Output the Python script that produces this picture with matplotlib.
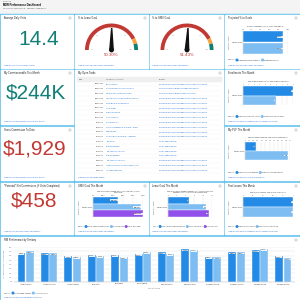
import matplotlib
matplotlib.use('Agg')
import matplotlib.pyplot as plt
from matplotlib.patches import Rectangle, Wedge, Polygon, Circle
import numpy as np

plt.rcParams['font.family'] = ['Liberation Sans', 'DejaVu Sans']

# ---------------- data ----------------
avg_daily_visits = "14.4"
commissionable_month = "$244K"
gross_commission = "$1,929"
potential_net = "$458"

lease_goal_pct = 50.30
gmv_goal_pct = 51.43
gauge_band_edges = [0, 85, 92, 100]
gauge_tick_values = [0, 25, 50, 75, 100]

proj_labels = ["Projected Funded Lease %", "Projected GMV %"]
proj_values = [89.2, 88.9]
proj_ticks = [0, 20, 40, 60, 80, 100]

enroll_labels = ["Sum of Enrollments Actual", "Sum of Enrollment Goal"]
enroll_values = [9, 6]
enroll_ticks = [0, 1, 2, 3, 4, 5, 6, 7, 8, 9]

plf_labels = ["Sum of Leads Produced", "Sum of PLF Requirement"]
plf_values = [26, 105]
plf_ticks = [0, 10, 20, 30, 40, 50, 60, 70, 80, 90, 100, 110]

gmv_goal_labels = ["Sum of Commissionable GMV", "Projected GMV", "Sum of GMV Goal"]
gmv_goal_values = [500000, 960000, 1000000]
gmv_goal_ticks = [0, 200000, 400000, 600000, 800000, 1000000]

lease_goal_labels = ["Sum of Commissionable Funded Count", "Sum of Projected Fun...", "Sum of Lease Goal"]
lease_goal_values = [7, 13, 14]
lease_goal_ticks = [0, 3, 6, 9, 12, 15]

first_lease_labels = ["Sum of First Leases", "Sum of First Lease Goal"]
first_lease_values = [1, 1]
first_lease_ticks = [0, 0.2, 0.4, 0.6, 0.8, 1.0]

owner_name = "Natalie Wise"

task_dates = ["8/30/2023", "8/30/2023", "8/30/2023", "8/30/2023", "8/30/2023", "8/31/2023",
              "8/31/2023", "8/31/2023", "9/1/2023", "9/1/2023", "9/1/2023", "9/5/2023",
              "9/5/2023", "9/5/2023", "9/5/2023", "9/5/2023", "9/6/2023", "9/6/2023", "9/6/2023"]
task_companies = ["Boost Mobile", "Good Works Fresh Tire Service", "Mobile Cell / Combination Bill",
                  "Levine Furniture and Mattress Depot", "Gear Back & Commission", "Auto Today",
                  "Cierra Furniture", "CJ's Jewelers", "Superior Tires",
                  "Sutton Hardwood & Mattress - Grant", "Mel Gaines",
                  "Unique Baits Furniture - Anaheim", "Tire Shop", "Racing Wheels",
                  "The Appliance Doctor", "Racing Wheels", "The Appliance Doctor",
                  "American Service Station Mattresses", "All About Mattress"]
task_subjects = ["Follow up with merchant about producing in first month",
                 "Check in & Break Bread: Funded This Month",
                 "Check in & Break Bread: Combination Bill",
                 "Follow up with merchant about producing in first month",
                 "Follow up with merchant about producing in first month",
                 "Follow up with merchant about producing in first month",
                 "Follow up with merchant about producing in first month",
                 "Follow up with merchant about producing in first month",
                 "Follow up with merchant about producing in first month",
                 "Follow up with merchant about producing in first month",
                 "Follow up with merchant about producing in first month",
                 "Follow up with merchant about producing in first month",
                 "New Lead follow up", "New Lead follow up", "New Lead follow up",
                 "New Lead follow up",
                 "Follow up with merchant about producing in first month",
                 "Follow up with merchant about producing in first month",
                 "Follow up with merchant about producing in first month"]

territories = ["Atlanta East", "Atlanta South", "Atlanta West", "Charlotte", "Columbia",
               "Greensboro", "Miami North", "Miami South", "Orlando North", "Orlando South",
               "Tampa North", "Tampa South"]
funded_pct = [67.2, 65.7, 59.6, 62.6, 62.6, 64.2, 67.9, 75.5, 58.1, 68.7, 72.5, 59.6]
gmv_pct = [71.0, 65.7, 58.1, 60.4, 57.4, 69.4, 65.0, 74.0, 56.6, 68.7, 76.2, 54.3]
rm_ticks = [0, 10, 20, 30, 40, 50, 60, 70, 80]

# ---------------- styles ----------------
DARK = '#238be6'
LIGHT = '#7dbdf2'
PURPLE = '#9050e9'
TEAL = '#127f78'
RED = '#c23934'
LINK = '#1565c8'
GAP = '#62c3ec'
TXT = '#222222'
GRAY = '#666666'
FS_TITLE = 1.8
FS_LINK = 1.45
FS_SMALL = 1.35

fig = plt.figure(figsize=(3, 3), dpi=100)
bg = fig.add_axes([0, 0, 1, 1])
bg.set_xlim(0, 300)
bg.set_ylim(300, 0)
bg.axis('off')
renderer = fig.canvas.get_renderer()


def twidth(t):
    return t.get_window_extent(renderer).width


def add_ax(x0, y0, x1, y1):
    return fig.add_axes([x0 / 300, 1 - y1 / 300, (x1 - x0) / 300, (y1 - y0) / 300])


# header + background
bg.add_patch(Rectangle((0, 0), 300, 14, color='#f4f4f4', zorder=0))
bg.add_patch(Rectangle((0, 14), 300, 286, color=GAP, zorder=0))
bg.text(3, 2.0, "Dashboard", fontsize=1.4, color=GRAY, va='center')
bg.text(3, 4.8, "MDR Performance Dashboard", fontsize=1.95, color='#080707', va='center', fontweight='bold')
bg.text(3, 8.0, "As of Feb 14, 2024 8:44 PM · Viewing as Annie Mercer", fontsize=1.3, color='#444', va='center')

panels = {
    'avg': (1, 15, 73, 67.5),
    'lease_g': (75, 15, 148, 67.5),
    'gmv_g': (150, 15, 223, 67.5),
    'proj': (225, 15, 299, 67.5),
    'comm': (1, 70, 73, 124),
    'tasks': (75, 70, 223, 180),
    'enroll': (225, 70, 299, 124),
    'gross': (1, 126.5, 73, 180),
    'plf': (225, 126.5, 299, 180),
    'pot': (1, 182.5, 73, 234),
    'gmvgoal': (75, 182.5, 148, 234),
    'leasegoal': (150, 182.5, 223, 234),
    'first': (225, 182.5, 299, 234),
    'rm': (1, 236.5, 299, 299.5),
}
titles = {
    'avg': "Average Daily Visits", 'lease_g': "% to Lease Goal", 'gmv_g': "% to GMV Goal",
    'proj': "Projected % to Goals", 'comm': "My Commissionable This Month",
    'tasks': "My Open Tasks", 'enroll': "Enrollments This Month",
    'gross': "Gross Commission To Date", 'plf': "My PLF This Month",
    'pot': "*Potential* Net Commissions (If Visits Completed)",
    'gmvgoal': "GMV Goal This Month", 'leasegoal': "Lease Goal This Month",
    'first': "First Leases This Month", 'rm': "RM Performance by Territory",
}
links = {
    'avg': "View Report (Average Daily Visits)", 'lease_g': "View Report (My GMV Goals This Month)",
    'gmv_g': "View Report (My GMV Goals This Month)", 'proj': "View Report (My GMV Goals This Month)",
    'comm': "View Report (My Commissionable This Month)", 'tasks': "View Report (My Open Tasks)",
    'enroll': "View Report (My Enrollments & First Leases This Month)",
    'gross': "View Report (My Commissionable This Month)", 'plf': "View Report (My PLF This Month Report)",
    'pot': "View Report (My GMV Goals This Month)", 'gmvgoal': "View Report (My GMV Goals This Month)",
    'leasegoal': "View Report (My GMV Goals This Month)",
    'first': "View Report (My Enrollments & First Leases This Month)",
    'rm': "View Report (RM Performance by Territory)",
}
for k, (x0, y0, x1, y1) in panels.items():
    bg.add_patch(Rectangle((x0, y0), x1 - x0, y1 - y0, color='white', zorder=1))
    bg.text(x0 + 2.5, y0 + 3.2, titles[k], fontsize=FS_TITLE, color=TXT, va='center', zorder=3)
    bg.add_patch(Rectangle((x1 - 4.2, y0 + 2.2), 1.8, 1.8, fill=False, ec='#a0a0a0', lw=0.3, zorder=3))
    bg.text(x0 + 2.5, y1 - 2.6, links[k], fontsize=FS_LINK, color=LINK, va='center', zorder=3)

# ---------------- big numbers ----------------
big = [('avg', avg_daily_visits, TEAL, 39.5, 39), ('comm', commissionable_month, TEAL, 93, 36),
       ('gross', gross_commission, RED, 149, 35), ('pot', potential_net, RED, 201, 34)]
for k, txt, col, yc, xc in big:
    bg.text(xc, yc, txt, fontsize=15, color=col, ha='center', va='center', zorder=3)


# ---------------- gauges ----------------
def gauge(cx, cy, value):
    ax = add_ax(cx - 30, cy - 30, cx + 30, cy + 8)
    ax.set_xlim(-30, 30)
    ax.set_ylim(-8, 30)
    ax.set_aspect('equal')
    ax.axis('off')
    r, w = 26.5, 3.8
    cols = [RED, '#f7a23e', '#0d7f74']
    for i in range(len(gauge_band_edges) - 1):
        a0 = 180 - gauge_band_edges[i + 1] * 1.8
        a1 = 180 - gauge_band_edges[i] * 1.8
        ax.add_patch(Wedge((0, 0), r, a0, a1, width=w, color=cols[i], lw=0))
    for t in gauge_tick_values:
        a = np.radians(180 - t * 1.8)
        ax.text(19.5 * np.cos(a), 19.5 * np.sin(a) + 1, f"{t}%", fontsize=1.2, color='#999',
                ha='center', va='center')
    a = np.radians(180 - value * 1.8)
    tip = (22 * np.cos(a), 22 * np.sin(a))
    perp = (np.cos(a + np.pi / 2) * 1.7, np.sin(a + np.pi / 2) * 1.7)
    ax.add_patch(Polygon([(perp[0], perp[1]), tip, (-perp[0], -perp[1])], color='#111'))
    ax.add_patch(Circle((0, 0), 1.7, color='#111'))
    ax.text(0, -4.6, f"{value:.2f}%", fontsize=3.2, color=RED, ha='center', va='center')


gauge(111.5, 50, lease_goal_pct)
gauge(187, 50, gmv_goal_pct)


# ---------------- legends ----------------
def legend(x, y, labels, colors, fs=FS_SMALL):
    t = bg.text(x, y, "Measure", fontsize=fs, color='#666', va='center', zorder=3)
    x += twidth(t) + 2.2
    for lab, c in zip(labels, colors):
        bg.add_patch(Circle((x, y), 0.8, color=c, zorder=3))
        t = bg.text(x + 1.3, y, lab, fontsize=fs, color='#333', va='center', zorder=3)
        x += 1.3 + twidth(t) + 2.2


# ---------------- horizontal bar panels ----------------
def fmt_val(v, money=False, pct=False):
    if money:
        return f"${v:,.0f}"
    if pct:
        return f"{v:.2f}%"
    return f"{v:g}"


def tick_fmt(t, money=False, pct=False):
    if money:
        return "$0" if t == 0 else f"${t / 1000:.0f}K" if t < 1e6 else f"${t / 1e6:.1f}M"
    if pct:
        return f"{t:.0f}%"
    return f"{t:g}"


def hbar(panel, rect, labels, values, colors, ticks, title, money=False, pct=False, leg_fs=FS_SMALL):
    x0, y0, x1, y1 = rect
    ax = add_ax(*rect)
    n = len(values)
    pos = np.arange(n)
    ax.barh(pos, values, height=1.0, color=colors, edgecolor='white', linewidth=0.3, zorder=2)
    ax.set_ylim(n - 0.5, -0.5)
    ax.set_xlim(ticks[0], ticks[-1])
    ax.set_xticks(ticks)
    ax.set_xticklabels([tick_fmt(t, money, pct) for t in ticks], fontsize=1.2, color='#666')
    ax.xaxis.tick_top()
    ax.tick_params(length=0, pad=0.8)
    ax.set_yticks([])
    ax.grid(axis='x', color='#e2e2e2', lw=0.3)
    ax.set_axisbelow(True)
    for s in ['top', 'right', 'bottom']:
        ax.spines[s].set_visible(False)
    ax.spines['left'].set_color('#bbb')
    ax.spines['left'].set_linewidth(0.3)
    for i, v in enumerate(values):
        ax.text(v - (ticks[-1] - ticks[0]) * 0.015, i, fmt_val(v, money, pct), fontsize=1.2,
                ha='right', va='center', color='#222',
                bbox=dict(boxstyle='square,pad=0.15', fc='white', ec='none', alpha=0.85))
    ax.set_facecolor('none')
    px0, py0, px1, py1 = panels[panel]
    bg.text((x0 + x1) / 2, y0 - 3.6, title, fontsize=1.3, color='#333', ha='center', va='bottom',
            linespacing=1.05, zorder=3)
    bg.text(x0 - 1.5, (y0 + y1) / 2, owner_name, fontsize=1.3, color='#333', ha='right', va='center', zorder=3)
    bg.text(px0 + 4, (y0 + y1) / 2, "Opportunity Owner", fontsize=1.2, color='#666', ha='center',
            va='center', rotation=90, zorder=3)
    legend(px0 + 2.5, py1 - 7.5, labels, colors, leg_fs)
    return ax


hbar('proj', (243, 31, 288, 54), proj_labels, proj_values, [DARK, LIGHT], proj_ticks,
     "Projected Funded Lease %, Projected GMV %", pct=True)
hbar('enroll', (243, 86, 293, 105), enroll_labels, enroll_values, [DARK, LIGHT], enroll_ticks,
     "Sum of Enrollments Actual, Sum of Enrollment Goal")
hbar('plf', (245, 142, 290, 160), plf_labels, plf_values, [DARK, LIGHT], plf_ticks,
     "Sum of Leads Produced, Sum of PLF Requirement")
hbar('gmvgoal', (93, 197, 143, 217), gmv_goal_labels, gmv_goal_values, [DARK, LIGHT, PURPLE],
     gmv_goal_ticks, "Sum of Commissionable GMV, Projected GMV, Sum of\nGMV Goal", money=True,
     leg_fs=1.15)
hbar('leasegoal', (168, 197, 212, 217), lease_goal_labels, lease_goal_values, [DARK, LIGHT, PURPLE],
     lease_goal_ticks, "Sum of Commissionable Funded Count, Sum of Projected\nFunded Lease, Sum of Funded Lease Goal",
     leg_fs=1.0)
hbar('first', (243, 197, 293, 217), first_lease_labels, first_lease_values, [DARK, LIGHT],
     first_lease_ticks, "Sum of First Leases, Sum of First Lease Goal")

# ---------------- tasks table ----------------
bg.add_patch(Rectangle((77, 76.8), 144, 4.6, color='#f0efef', zorder=2))
bg.text(78.5, 79, "Date", fontsize=1.45, color='#444', va='center', zorder=3)
bg.text(106, 79, "Company / Account", fontsize=1.45, color='#444', va='center', zorder=3)
bg.text(159, 79, "Subject", fontsize=1.45, color='#444', va='center', zorder=3)
for i, (d, c, s) in enumerate(zip(task_dates, task_companies, task_subjects)):
    y = 84 + i * 4.8
    bg.text(104, y, d, fontsize=1.45, color='#333', ha='right', va='center', zorder=3)
    bg.text(106, y, c, fontsize=1.45, color=LINK, va='center', zorder=3)
    bg.text(159, y, s, fontsize=1.45, color=LINK, va='center', zorder=3)
    bg.plot([77, 221], [y + 2.4, y + 2.4], color='#eeeeee', lw=0.25, zorder=2)

# ---------------- RM performance ----------------
ax = add_ax(14, 247, 295, 282)
x = np.arange(len(territories))
w = 0.34
ax.bar(x - 0.18, funded_pct, w, color=DARK, edgecolor='white', linewidth=0.3, zorder=2)
ax.bar(x + 0.18, gmv_pct, w, color=LIGHT, edgecolor='white', linewidth=0.3, zorder=2)
for xi, v in zip(x - 0.18, funded_pct):
    ax.text(xi, v - 3, f"{v:.2f}%", fontsize=1.2, ha='center', va='center', color='#222',
            bbox=dict(boxstyle='square,pad=0.15', fc='white', ec='none', alpha=0.9))
for xi, v in zip(x + 0.18, gmv_pct):
    ax.text(xi, v - 3, f"{v:.2f}%", fontsize=1.2, ha='center', va='center', color='#222',
            bbox=dict(boxstyle='square,pad=0.15', fc='white', ec='none', alpha=0.9))
ax.set_xlim(-0.5, len(territories) - 0.5)
ax.set_ylim(rm_ticks[0], rm_ticks[-1])
ax.set_yticks(rm_ticks)
ax.set_yticklabels([f"{t}%" for t in rm_ticks], fontsize=1.2, color='#666')
ax.set_xticks(x)
ax.set_xticklabels(territories, fontsize=1.5, color='#333')
ax.tick_params(length=0, pad=1)
ax.grid(axis='y', color='#e2e2e2', lw=0.3)
ax.set_axisbelow(True)
for s in ['top', 'right', 'left']:
    ax.spines[s].set_visible(False)
ax.spines['bottom'].set_color('#bbb')
ax.spines['bottom'].set_linewidth(0.3)
ax.set_facecolor('none')
bg.text(154, 288.5, "Territory Name", fontsize=1.3, color='#666', ha='center', va='center', zorder=3)
bg.text(4.5, 264.5, "% to Funded Leases / % to GMV Goal", fontsize=1.2, color='#666', ha='center',
        va='center', rotation=90, zorder=3)
legend(3.5, 293, ["% to Funded Leases", "% to GMV Goal"], [DARK, LIGHT])

fig.savefig('out.png', dpi=100)
